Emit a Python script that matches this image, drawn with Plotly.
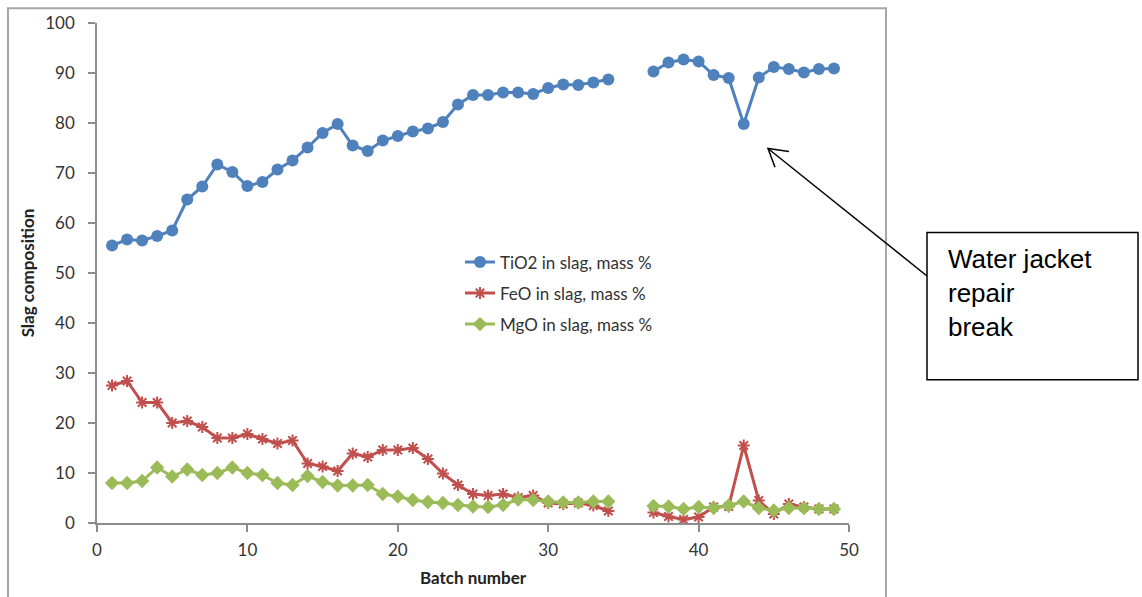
import plotly.graph_objects as go

batch = list(range(1, 50))

tio2 = [55.5, 56.7, 56.5, 57.4, 58.5, 64.7, 67.3, 71.7, 70.2, 67.4,
        68.2, 70.7, 72.5, 75.1, 78.0, 79.8, 75.5, 74.4, 76.5, 77.4,
        78.3, 78.9, 80.2, 83.7, 85.6, 85.6, 86.1, 86.1, 85.8, 87.0,
        87.7, 87.6, 88.1, 88.7, None, None, 90.3, 92.1, 92.7, 92.3,
        89.6, 89.0, 79.8, 89.1, 91.2, 90.8, 90.1, 90.8, 90.9]

feo = [27.5, 28.4, 24.1, 24.1, 20.0, 20.4, 19.2, 17.0, 17.0, 17.8,
       16.8, 15.9, 16.5, 11.9, 11.3, 10.4, 13.9, 13.2, 14.6, 14.6,
       15.0, 12.8, 9.9, 7.6, 5.8, 5.5, 5.8, 5.1, 5.5, 4.0,
       3.8, 4.0, 3.5, 2.4, None, None, 2.1, 1.3, 0.7, 1.2,
       3.2, 3.3, 15.5, 4.5, 1.8, 3.8, 3.2, 2.8, 2.8]

mgo = [8.0, 8.0, 8.4, 11.1, 9.3, 10.7, 9.6, 10.0, 11.1, 10.0,
       9.6, 8.0, 7.6, 9.4, 8.2, 7.5, 7.5, 7.6, 5.8, 5.3,
       4.6, 4.2, 4.0, 3.6, 3.3, 3.2, 3.6, 4.7, 4.6, 4.3,
       4.1, 4.1, 4.3, 4.3, None, None, 3.4, 3.3, 2.8, 3.2,
       3.0, 3.5, 4.3, 3.0, 2.5, 3.0, 3.0, 2.8, 2.8]

names = ["TiO2 in slag, mass %", "FeO in slag, mass %", "MgO in slag, mass %"]
x_ticks = [0, 10, 20, 30, 40, 50]
y_ticks = [0, 10, 20, 30, 40, 50, 60, 70, 80, 90, 100]
note_text = "Water jacket<br>repair<br>break"

BLUE = "#4f81bd"
RED = "#c0504d"
GREEN = "#9bbb59"
FONT = "Lato"

W, H = 1142, 597
L, R, T, B = 97, 849, 20, 526  # plot area box in screenshot pixels


def px(xp):
    return (xp - L) / (R - L)


def py(yp):
    return (B - yp) / (B - T)


fig = go.Figure()
fig.add_trace(go.Scatter(
    x=batch, y=tio2, name=names[0], mode="lines+markers", legendgroup="a",
    line=dict(color=BLUE, width=3),
    marker=dict(symbol="circle", size=12, color=BLUE),
    connectgaps=False))
fig.add_trace(go.Scatter(
    x=batch, y=feo, name=names[1], mode="lines+markers", legendgroup="b",
    line=dict(color=RED, width=3),
    marker=dict(symbol="asterisk-open", size=10, color=RED, line=dict(color=RED, width=2)),
    connectgaps=False))
fig.add_trace(go.Scatter(
    x=batch, y=mgo, name=names[2], mode="lines+markers", legendgroup="c",
    line=dict(color=GREEN, width=3),
    marker=dict(symbol="diamond", size=11, color=GREEN),
    connectgaps=False))

axis_common = dict(
    showgrid=False, zeroline=False, showline=True, linecolor="#8c8c8c", linewidth=1.5,
    ticks="outside", ticklen=7, tickcolor="#8c8c8c", tickwidth=1.5,
    tickfont=dict(family=FONT, size=17, color="#333333"),
)

fig.update_xaxes(range=[0, 50], tickvals=x_ticks, ticktext=[str(v) for v in x_ticks],
                 ticklabelstandoff=4,
                 title=dict(text="<b>Batch number</b>", font=dict(family=FONT, size=17, color="#222222"), standoff=13),
                 **axis_common)
fig.update_yaxes(range=[0, 100], tickvals=y_ticks, ticktext=[str(v) for v in y_ticks],
                 ticklabelstandoff=10,
                 title=dict(text="<b>Slag composition</b>", font=dict(family=FONT, size=17, color="#222222"), standoff=6),
                 **axis_common)

# outer chart border
fig.add_shape(type="rect", xref="paper", yref="paper",
              x0=px(8), x1=px(886), y0=py(605), y1=py(5),
              line=dict(color="#a6a6a6", width=2), layer="below")

# annotation box
fig.add_shape(type="rect", xref="paper", yref="paper",
              x0=px(927), x1=px(1138), y0=py(381), y1=py(232),
              line=dict(color="black", width=1.5))
fig.add_annotation(xref="paper", yref="paper", x=px(946), y=py(242),
                   xanchor="left", yanchor="top", align="left", showarrow=False,
                   text=note_text, font=dict(family="Liberation Sans", size=26, color="black"))

# arrow: line + open V head
tip = (768, 147)
tail = (927, 276)
fig.add_shape(type="line", xref="paper", yref="paper",
              x0=px(tail[0]), y0=py(tail[1]), x1=px(tip[0]), y1=py(tip[1]),
              line=dict(color="black", width=1.5))
fig.add_shape(type="path", xref="paper", yref="paper",
              path=f"M {px(789)} {py(150)} L {px(tip[0])} {py(tip[1])} L {px(775)} {py(166)}",
              line=dict(color="black", width=1.5))

fig.update_layout(
    width=W, height=H, autosize=False,
    margin=dict(l=L, r=W - R, t=T, b=H - B),
    paper_bgcolor="white", plot_bgcolor="white",
    showlegend=True,
    legend=dict(x=px(460), y=py(244), xanchor="left", yanchor="top",
                font=dict(family=FONT, size=17, color="#333333"),
                bgcolor="rgba(0,0,0,0)", tracegroupgap=6, traceorder="grouped"),
)

fig.write_html("out.html", config={"displayModeBar": False},
               post_script="document.body.style.margin='0px';document.body.style.overflow='hidden';")
